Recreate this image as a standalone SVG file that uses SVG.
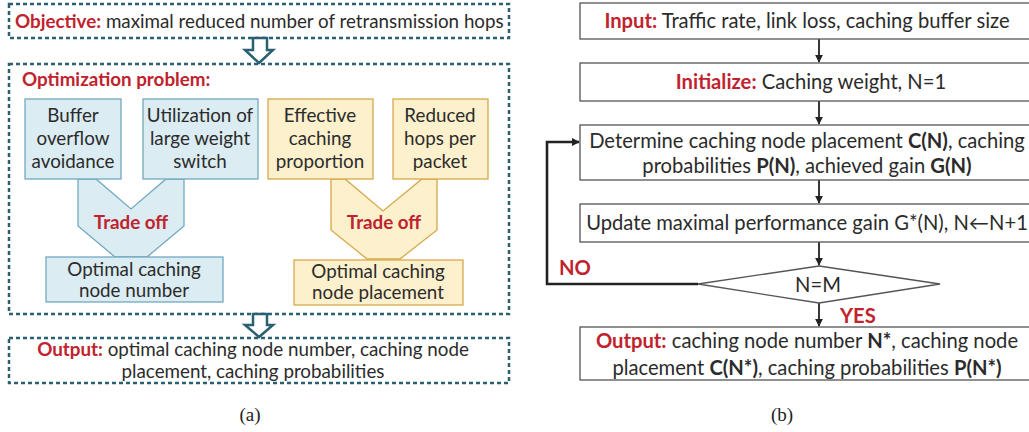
<svg xmlns="http://www.w3.org/2000/svg" width="1029" height="432" viewBox="0 0 1029 432">
<defs>
<style>
text{font-family:Lato,"Open Sans",sans-serif;font-size:18.8px;fill:#2b2b2b}
.r text{font-size:20.2px}
.red{fill:#c0232d;font-weight:bold}
.b{font-weight:bold}
.c{text-anchor:middle}
.cap{font-family:"Liberation Serif",serif;font-size:19px;fill:#222}
.dash{fill:none;stroke:#2a6070;stroke-width:2.5;stroke-dasharray:4 3}
.blue{fill:#dbecf3;stroke:#72aac0;stroke-width:1.3}
.yel{fill:#fdf0cc;stroke:#d6aa4c;stroke-width:1.3}
.hollow{fill:#fff;stroke:#2a6070;stroke-width:2.5;stroke-linejoin:miter}
.box{fill:#fff;stroke:#555;stroke-width:1.3}
.conn{fill:none;stroke:#222;stroke-width:1.8}
.loop{fill:none;stroke:#222;stroke-width:2.6}
</style>
<marker id="ah" viewBox="0 0 10 10" refX="9" refY="5" markerWidth="8" markerHeight="8" orient="auto" markerUnits="userSpaceOnUse">
<path d="M0,0 L10,5 L0,10 z" fill="#222"/>
</marker>
</defs>

<!-- Panel (a) -->
<g id="objective">
<rect class="dash" x="9" y="4" width="500" height="34"/>
<text x="15" y="28"><tspan class="red">Objective:</tspan> maximal reduced number of retransmission hops</text>
</g>
<g id="arrow-a1"><polygon class="hollow" points="253,38 267,38 267,50 273,50 259,63 245,50 253,50"/></g>

<g id="optimization">
<rect class="dash" x="9" y="64" width="500" height="250"/>
<text x="22" y="86" class="red">Optimization problem:</text>
</g>

<g id="tradeoff-blue">
<polygon class="blue" points="78,179 96,179 131,209 166,179 184,179 184,226 147,257 115,257 78,226"/>
<text x="131" y="229" class="red c">Trade off</text>
</g>
<g id="buffer">
<rect class="blue" x="25" y="99" width="96" height="80"/>
<text class="c" x="73" y="122">Buffer</text>
<text class="c" x="73" y="145">overflow</text>
<text class="c" x="73" y="168">avoidance</text>
</g>
<g id="utilization">
<rect class="blue" x="143" y="99" width="115" height="80"/>
<text class="c" x="200" y="122">Utilization of</text>
<text class="c" x="200" y="145">large weight</text>
<text class="c" x="200" y="168">switch</text>
</g>
<g id="opt-number">
<rect class="blue" x="46" y="257" width="177" height="45"/>
<text class="c" x="134" y="276">Optimal caching</text>
<text class="c" x="134" y="297">node number</text>
</g>

<g id="tradeoff-yellow">
<polygon class="yel" points="331,179 345,179 383,211 422,179 437,179 437,230 400,259 367,259 331,230"/>
<text x="384" y="229" class="red c">Trade off</text>
</g>
<g id="effective">
<rect class="yel" x="268" y="99" width="105" height="80"/>
<text class="c" x="320" y="122">Effective</text>
<text class="c" x="320" y="145">caching</text>
<text class="c" x="320" y="168">proportion</text>
</g>
<g id="reduced">
<rect class="yel" x="393" y="99" width="95" height="80"/>
<text class="c" x="440" y="122">Reduced</text>
<text class="c" x="440" y="145">hops per</text>
<text class="c" x="440" y="168">packet</text>
</g>
<g id="opt-placement">
<rect class="yel" x="294" y="260" width="169" height="45"/>
<text class="c" x="378" y="278">Optimal caching</text>
<text class="c" x="378" y="299">node placement</text>
</g>

<g id="arrow-a2"><polygon class="hollow" points="253,314 267,314 267,325 273,325 259,337 245,325 253,325"/></g>

<g id="output-a">
<rect class="dash" x="9" y="338" width="500" height="45"/>
<text class="c" x="253" y="356"><tspan class="red">Output:</tspan> optimal caching node number, caching node</text>
<text class="c" x="253" y="378">placement, caching probabilities</text>
</g>
<text class="cap c" x="250" y="421">(a)</text>

<!-- Panel (b) -->
<g class="r">
<g id="connectors">
<line class="conn" x1="819" y1="39" x2="819" y2="62" marker-end="url(#ah)"/>
<line class="conn" x1="819" y1="101" x2="819" y2="124" marker-end="url(#ah)"/>
<line class="conn" x1="819" y1="180" x2="819" y2="203" marker-end="url(#ah)"/>
<line class="conn" x1="819" y1="242" x2="819" y2="265" marker-end="url(#ah)"/>
<line class="conn" x1="819" y1="303" x2="819" y2="326" marker-end="url(#ah)"/>
<polyline class="loop" points="698,284 547,284 547,142 579,142" marker-end="url(#ah)"/>
<text x="559" y="275" class="red">NO</text>
<text x="840" y="323" class="red">YES</text>
</g>

<g id="input">
<rect class="box" x="580" y="3" width="470" height="36"/>
<text class="c" x="807" y="28"><tspan class="red">Input:</tspan> Traffic rate, link loss, caching buffer size</text>
</g>
<g id="initialize">
<rect class="box" x="580" y="63" width="470" height="38"/>
<text class="c" x="811" y="89"><tspan class="red">Initialize:</tspan> Caching weight, N=1</text>
</g>
<g id="determine">
<rect class="box" x="580" y="125" width="470" height="55"/>
<text class="c" x="807" y="148">Determine caching node placement <tspan class="b">C(N)</tspan>, caching</text>
<text class="c" x="807" y="173">probabilities <tspan class="b">P(N)</tspan>, achieved gain <tspan class="b">G(N)</tspan></text>
</g>
<g id="update">
<rect class="box" x="580" y="204" width="470" height="38"/>
<text class="c" x="807" y="230">Update maximal performance gain G*(N), N&#8592;N+1</text>
</g>
<g id="decision">
<polygon class="box" points="819,266 940,284 819,303 698,284"/>
<text class="c" x="818" y="292">N=M</text>
</g>
<g id="output-b">
<rect class="box" x="580" y="327" width="470" height="53"/>
<text class="c" x="807" y="348"><tspan class="red">Output:</tspan> caching node number <tspan class="b">N*</tspan>, caching node</text>
<text class="c" x="807" y="375">placement <tspan class="b">C(N*)</tspan>, caching probabilities <tspan class="b">P(N*)</tspan></text>
</g>
</g>
<text class="cap c" x="782" y="421">(b)</text>
</svg>
